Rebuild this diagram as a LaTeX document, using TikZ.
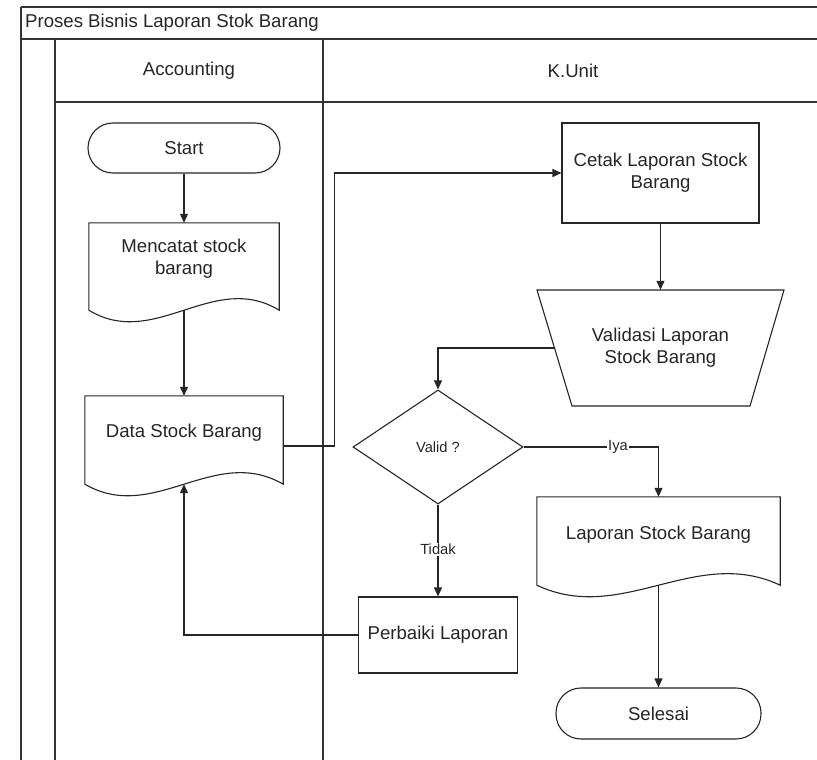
\documentclass[tikz,border=0pt]{standalone}
\usepackage{fontspec}
\setmainfont{Liberation Sans}
\usetikzlibrary{arrows.meta,shapes.geometric,calc}
\begin{document}
\begin{tikzpicture}[x=1pt,y=-1pt,
  font=\fontsize{18.6}{22}\selectfont,
  every node/.style={text=black!85},
  lane/.style={draw=black!80,line width=1.6pt},
  term/.style={draw=black!85, line width=1.1pt, rounded corners=25pt, inner sep=0},
  procbox/.style={draw=black!85, line width=1.1pt, rectangle, inner sep=0, align=center},
  docshape/.style={rectangle, inner sep=0, draw=none},
  txt/.style={align=center, inner sep=0},
  flow/.style={draw=black!85, line width=1.1pt, -{Triangle[length=9pt,width=8pt]}},
  lbl/.style={fill=white, inner sep=1pt, font=\fontsize{14.7}{17}\selectfont},
  shapeline/.style={draw=black!85, line width=1.1pt}
]
\useasboundingbox[fill=white] (0,0) rectangle (817,760);

% pool and lanes
\draw[lane] (21,7) -- (817,7);
\draw[lane] (21,39) -- (817,39);
\draw[lane] (21,7) -- (21,760);
\draw[lane] (55,39) -- (55,760);
\draw[lane] (55,102) -- (817,102);
\draw[lane] (323,39) -- (323,760);
\node[anchor=west, inner sep=0] (title) at (25,23) {Proses Bisnis Laporan Stok Barang};
\node[inner sep=0] (laneA) at (189,71) {Accounting};
\node[inner sep=0] (laneB) at (573,71) {K.Unit};

% nodes
\node[term, minimum width=192, minimum height=50] (start) at (184,148) {Start};

\node[docshape, minimum width=190, minimum height=87] (mencatat) at (184,266.5) {};
\draw[shapeline] (mencatat.north west) -- (mencatat.north east) -- (mencatat.south east)
  .. controls ($(mencatat.south east)+(-66,-40)$) and ($(mencatat.south west)+(66,40)$) .. (mencatat.south west) -- cycle;
\node[txt] (mencatat-t) at (184,259) {Mencatat stock\\barang};

\node[docshape, minimum width=198, minimum height=88] (data) at (184,440) {};
\draw[shapeline] (data.north west) -- (data.north east) -- (data.south east)
  .. controls ($(data.south east)+(-69,-40)$) and ($(data.south west)+(69,40)$) .. (data.south west) -- cycle;
\node[txt] (data-t) at (184,433) {Data Stock Barang};

\node[procbox, minimum width=197, minimum height=100] (cetak) at (660.5,173) {Cetak Laporan Stock\\Barang};

\node[txt, minimum width=212, minimum height=116] (val) at (660.5,348) {Validasi Laporan\\Stock Barang};
\draw[shapeline] (537,290) -- (784,290) -- (750,406) -- (572,406) -- cycle;

\node[diamond, draw=black!85, line width=1.1pt, minimum width=170, minimum height=114, inner sep=0,
  font=\fontsize{14.7}{17}\selectfont] (valid) at (438,447) {Valid ?};

\node[docshape, minimum width=243, minimum height=88] (laporan) at (658.5,541) {};
\draw[shapeline] (laporan.north west) -- (laporan.north east) -- (laporan.south east)
  .. controls ($(laporan.south east)+(-85,-40)$) and ($(laporan.south west)+(85,40)$) .. (laporan.south west) -- cycle;
\node[txt] (laporan-t) at (658.5,535) {Laporan Stock Barang};

\node[procbox, minimum width=159, minimum height=76] (perbaiki) at (438,635) {Perbaiki Laporan};

\node[term, minimum width=205, minimum height=51] (selesai) at (658.5,713.5) {Selesai};

% connectors
\draw[flow] (start.south) -- (mencatat.north);
\draw[flow] (mencatat.south) -- (data.north);
\draw[flow] ($(data.east)+(0,6)$) -- ++(51,0) |- (cetak.west);
\draw[flow] (cetak.south) -- (val.north);
\draw[flow] (val.west) -| (valid.north);
\draw[flow] (valid.east) -| node[lbl, pos=0.35] (iya) {Iya} (laporan.north);
\draw[flow] (valid.south) -- node[lbl, pos=0.49] (tidak) {Tidak} (perbaiki.north);
\draw[flow] (perbaiki.west) -| (data.south);
\draw[flow] (laporan.south) -- (selesai.north);
\end{tikzpicture}
\end{document}
